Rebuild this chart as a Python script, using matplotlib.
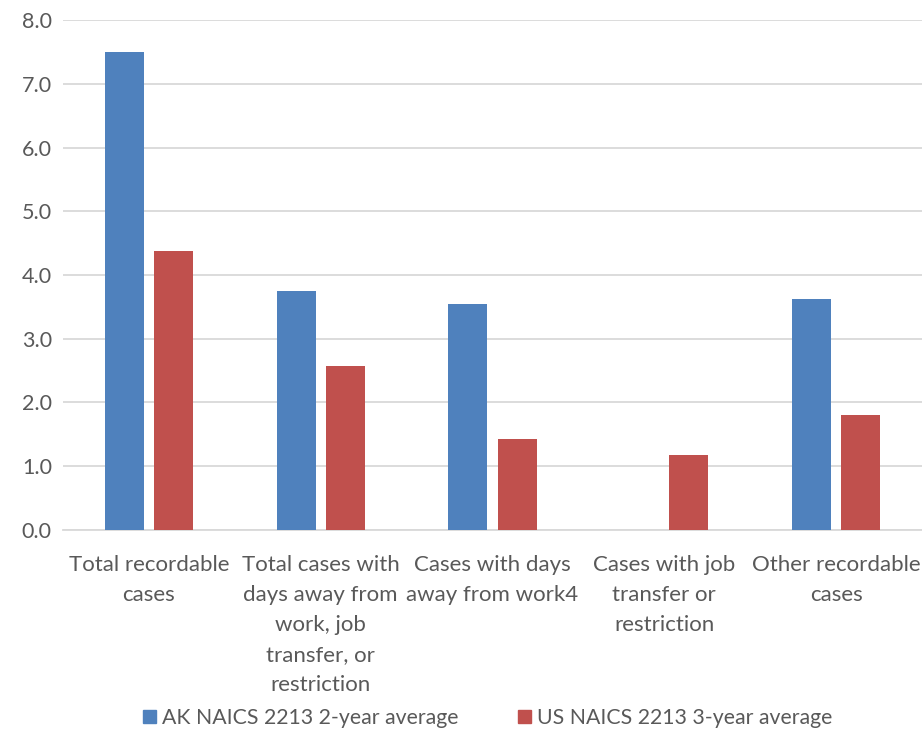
import matplotlib
matplotlib.use("Agg")
import matplotlib.pyplot as plt
import numpy as np
from matplotlib.patches import Patch

categories = ["Total recordable\ncases",
              "Total cases with\ndays away from\nwork, job\ntransfer, or\nrestriction",
              "Cases with days\naway from work4",
              "Cases with job\ntransfer or\nrestriction",
              "Other recordable\ncases"]
ak_values = [7.5, 3.75, 3.55, np.nan, 3.62]
us_values = [4.38, 2.58, 1.42, 1.17, 1.80]
series_names = ["AK NAICS 2213 2-year average", "US NAICS 2213 3-year average"]
yticks = [0, 1, 2, 3, 4, 5, 6, 7, 8]

blue = "#4F81BD"
red = "#C0504D"
txt = "#595959"

plt.rcParams['font.family'] = ['Lato', 'DejaVu Sans']

fig = plt.figure(figsize=(9.22, 7.31), dpi=100)
ax = fig.add_axes([0.0683, 0.275, 0.9317, 0.6976])

x = np.arange(len(categories))
w = 0.227
off = 0.143
ax.bar(x - off, ak_values, w, color=blue, zorder=3)
ax.bar(x + off, us_values, w, color=red, zorder=3)

ax.set_xlim(-0.5, len(categories) - 0.5)
ax.set_ylim(0, 8)
ax.set_yticks(yticks)
ax.set_yticklabels([f"{v:.1f}" for v in yticks], fontsize=15.5, color=txt)
ax.yaxis.grid(True, color="#D9D9D9", linewidth=1.3, zorder=0)
ax.set_xticks(x)
ax.set_xticklabels(categories, fontsize=16, color=txt, linespacing=1.62)
ax.tick_params(axis='both', length=0)
ax.tick_params(axis='x', pad=18)
ax.tick_params(axis='y', pad=8)
for s in ["top", "right", "left"]:
    ax.spines[s].set_visible(False)
ax.spines["bottom"].set_color("#D9D9D9")
ax.spines["bottom"].set_linewidth(1.3)

handles = [Patch(color=blue, label=series_names[0]), Patch(color=red, label=series_names[1])]
fig.legend(handles=handles, loc="center", bbox_to_anchor=(0.529, 0.018), ncol=2, frameon=False,
           fontsize=15.3, labelcolor=txt, handlelength=0.6, handleheight=0.6, handletextpad=0.3,
           columnspacing=2.8)

fig.savefig("out.png", dpi=100)
